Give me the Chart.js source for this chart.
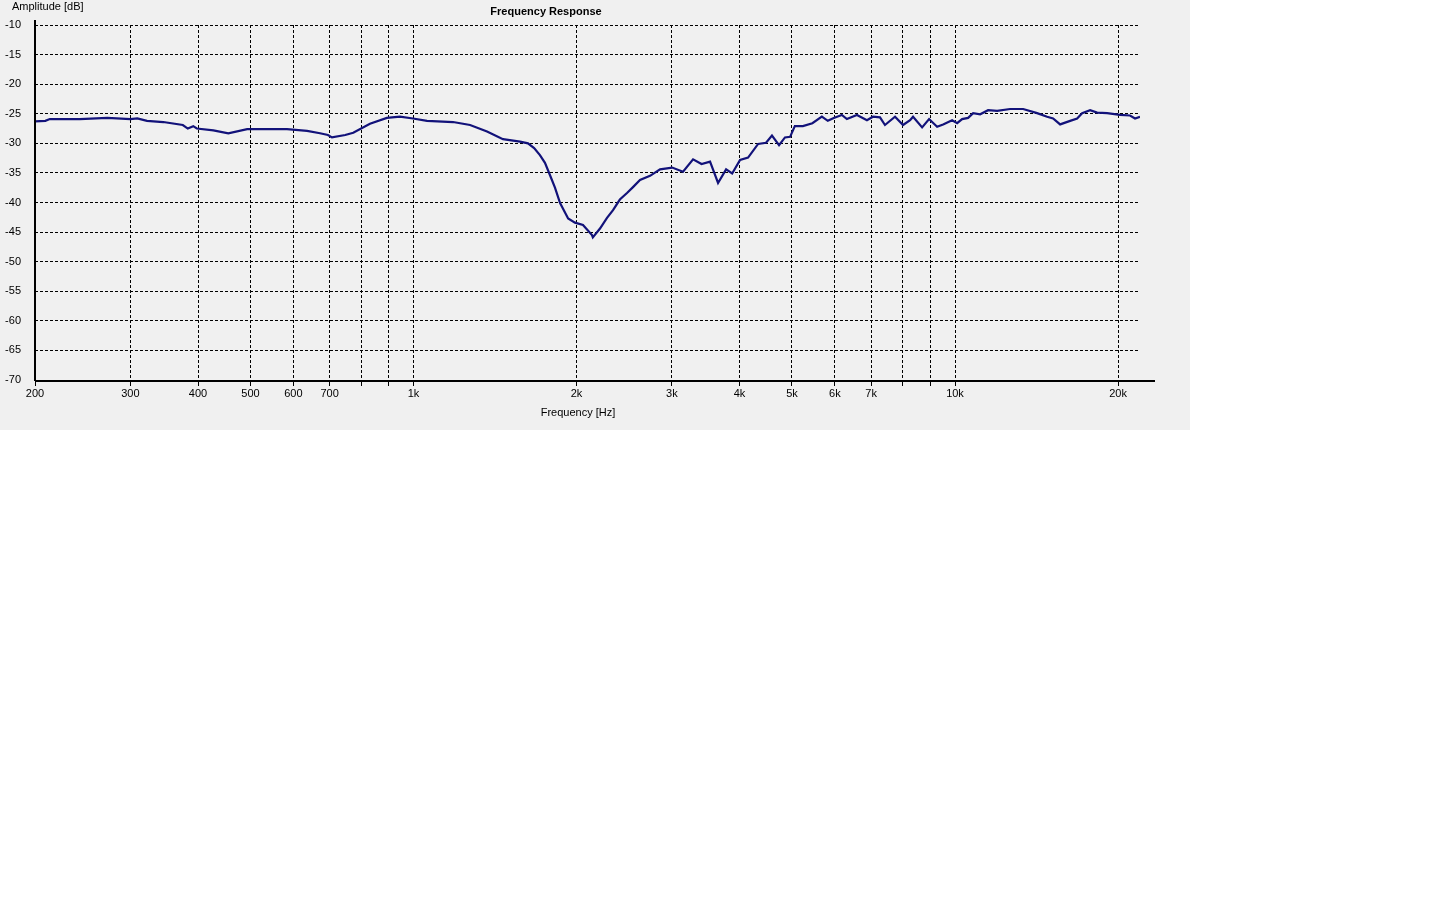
<!DOCTYPE html>
<html>
<head>
<meta charset="utf-8">
<title>Frequency Response</title>
<script src="https://cdn.jsdelivr.net/npm/chart.js@4"></script>
<style>
  body { margin: 0; background: #ffffff; }
  #panel { width: 1190px; height: 430px; background: #f0f0f0; }
</style>
</head>
<body>
<div id="panel"><canvas id="frChart" width="1190" height="430"></canvas></div>
<script>
// frequency points (Hz)
const freqs = [200, 209, 213, 226, 242, 272, 300, 309, 322, 345, 375, 383, 392, 398, 427, 455,
  493, 528, 584, 636, 672, 695, 707, 748, 774, 831, 893, 944, 998, 1059, 1183, 1272, 1367,
  1463, 1573, 1627, 1670, 1712, 1749, 1787, 1825, 1865, 1930, 1987, 2056, 2136, 2144, 2210,
  2277, 2336, 2405, 2479, 2543, 2620, 2734, 2853, 3003, 3146, 3283, 3404, 3529, 3651, 3778,
  3877, 4009, 4148, 4329, 4478, 4592, 4732, 4853, 4960, 5061, 5237, 5453, 5677, 5822, 5972,
  6180, 6315, 6590, 6877, 7054, 7269, 7425, 7749, 8018, 8261, 8366, 8695, 8957, 9267, 9507,
  9878, 10092, 10308, 10574, 10801, 11128, 11512, 11962, 12640, 13362, 14177, 14793, 15176,
  15636, 16317, 16809, 17170, 17765, 18301, 19094, 20170, 21048, 21500, 21960];

// amplitude (dB)
const amps = [-26.3, -26.2, -25.9, -25.9, -25.9, -25.7, -25.9, -25.8, -26.2, -26.4, -26.9, -27.5,
  -27.1, -27.5, -27.8, -28.3, -27.6, -27.6, -27.6, -27.9, -28.3, -28.6, -29.0, -28.6, -28.2,
  -26.7, -25.7, -25.5, -25.8, -26.2, -26.4, -26.9, -28.0, -29.3, -29.7, -30.0, -30.8, -32.0,
  -33.3, -35.4, -37.5, -40.1, -42.7, -43.4, -43.8, -45.5, -45.9, -44.4, -42.6, -41.3, -39.5,
  -38.4, -37.4, -36.2, -35.5, -34.4, -34.1, -34.8, -32.7, -33.5, -33.1, -36.7, -34.4, -35.1,
  -32.8, -32.4, -30.1, -29.9, -28.7, -30.3, -29.0, -28.9, -27.1, -27.1, -26.6, -25.5, -26.2,
  -25.7, -25.2, -25.9, -25.2, -26.1, -25.5, -25.6, -26.9, -25.5, -26.9, -26.1, -25.5, -27.3,
  -25.9, -27.2, -26.8, -26.1, -26.6, -25.9, -25.7, -24.9, -25.1, -24.4, -24.5, -24.2, -24.2,
  -24.9, -25.5, -25.8, -26.8, -26.2, -25.8, -24.9, -24.4, -24.8, -24.9, -25.2, -25.3, -25.8,
  -25.5];

// x grid ticks and their labels (800, 900, 8k, 9k have no label)
const xTicks = [200, 300, 400, 500, 600, 700, 800, 900, 1000, 2000, 3000, 4000, 5000, 6000,
  7000, 8000, 9000, 10000, 20000];
const xTickLabels = ['200', '300', '400', '500', '600', '700', '', '', '1k', '2k', '3k', '4k',
  '5k', '6k', '7k', '', '', '10k', '20k'];

const FONT = "'Liberation Sans', Arial, sans-serif";

// axis lines and captions
const decor = {
  id: 'decor',
  afterDraw(chart) {
    const c = chart.ctx, a = chart.chartArea;
    c.save();
    c.strokeStyle = '#000';
    c.lineWidth = 2;
    c.beginPath();
    c.moveTo(a.left, a.top - 5);
    c.lineTo(a.left, a.bottom + 1);
    c.moveTo(a.left, a.bottom + 1);
    c.lineTo(a.right + 15, a.bottom + 1);
    c.stroke();

    c.fillStyle = '#000';
    c.textBaseline = 'middle';
    c.font = '11px ' + FONT;
    c.textAlign = 'left';
    c.fillText('Amplitude [dB]', 12, 7);
    c.textAlign = 'center';
    c.fillText('Frequency [Hz]', 578, 413);
    c.font = 'bold 11px ' + FONT;
    c.fillText('Frequency Response', 546, 12);
    c.restore();
  }
};

const ctx = document.getElementById('frChart');

new Chart(ctx, {
  type: 'line',
  data: {
    datasets: [{
      data: freqs.map((f, i) => ({ x: f, y: amps[i] })),
      borderColor: '#12127a',
      borderWidth: 2.2,
      pointRadius: 0,
      tension: 0,
      fill: false
    }]
  },
  options: {
    responsive: false,
    animation: false,
    layout: { padding: { top: 25, right: 50, left: 0, bottom: 0 } },
    plugins: { legend: { display: false }, tooltip: { enabled: false } },
    scales: {
      x: {
        type: 'logarithmic',
        min: 200,
        max: 21960,
        afterBuildTicks: (scale) => { scale.ticks = xTicks.map(v => ({ value: v })); },
        afterFit: (scale) => { scale.height = 50; },
        grid: { color: '#000', lineWidth: 1, drawTicks: true, tickLength: 6, tickColor: '#000' },
        border: { display: false, dash: [3, 2] },
        ticks: {
          autoSkip: false,
          maxRotation: 0,
          padding: 1,
          color: '#000',
          font: { family: FONT, size: 11 },
          callback: (v) => {
            const i = xTicks.indexOf(v);
            return i >= 0 ? xTickLabels[i] : '';
          }
        }
      },
      y: {
        min: -70,
        max: -10,
        afterFit: (scale) => { scale.width = 35; },
        grid: { color: '#000', lineWidth: 1, drawTicks: false },
        border: { display: false, dash: [3, 2] },
        ticks: {
          stepSize: 5,
          padding: 14,
          color: '#000',
          font: { family: FONT, size: 11 }
        }
      }
    }
  },
  plugins: [decor]
});
</script>
</body>
</html>
